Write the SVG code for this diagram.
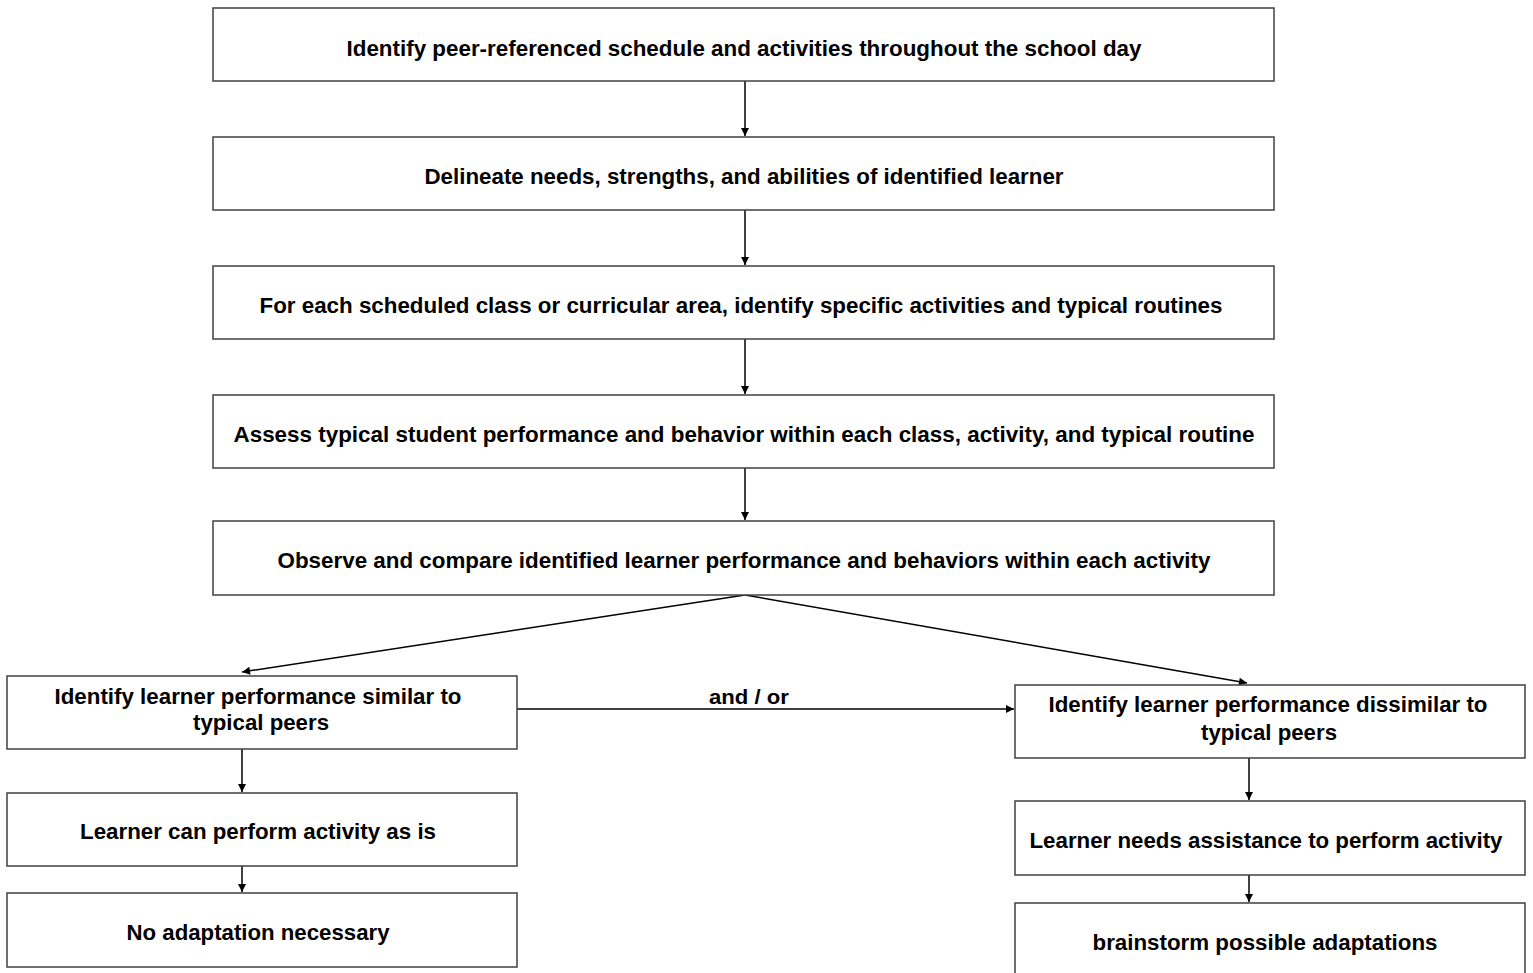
<svg xmlns="http://www.w3.org/2000/svg" width="1533" height="973" viewBox="0 0 1533 973">
<style>
.box{fill:#fff;stroke:#404040;stroke-width:1.5}
.t{font-family:"Liberation Sans",Arial,sans-serif;font-weight:bold;font-size:22px;fill:#000;text-anchor:middle}
.lbl{font-family:"Liberation Sans",Arial,sans-serif;font-weight:bold;font-size:21px;fill:#000;text-anchor:middle}
.c{stroke:#000;stroke-width:1.5;fill:none;marker-end:url(#ah)}
</style>
<defs>
<marker id="ah" viewBox="0 0 10 10" refX="10" refY="5" markerWidth="9" markerHeight="8" markerUnits="userSpaceOnUse" orient="auto">
<path d="M0,0 L10,5 L0,10 z" fill="#000"/>
</marker>
</defs>
<rect width="1533" height="973" fill="#fff"/>
<g id="connectors">
<line class="c" x1="745" y1="81" x2="745" y2="136"/>
<line class="c" x1="745" y1="210" x2="745" y2="265"/>
<line class="c" x1="745" y1="339" x2="745" y2="394"/>
<line class="c" x1="745" y1="468" x2="745" y2="520"/>
<line class="c" x1="745" y1="595" x2="242" y2="672"/>
<line class="c" x1="745" y1="595" x2="1247" y2="683"/>
<line class="c" x1="517" y1="709" x2="1014" y2="709"/>
<text class="lbl" x="749" y="704" textLength="80" lengthAdjust="spacingAndGlyphs">and / or</text>
<line class="c" x1="242" y1="749" x2="242" y2="792"/>
<line class="c" x1="242" y1="866" x2="242" y2="892"/>
<line class="c" x1="1249" y1="758" x2="1249" y2="800"/>
<line class="c" x1="1249" y1="875" x2="1249" y2="902"/>
</g>
<g id="n1"><rect class="box" x="213" y="8" width="1061" height="73"/><text class="t" x="744" y="55.5" textLength="795" lengthAdjust="spacingAndGlyphs">Identify peer-referenced schedule and activities throughout the school day</text></g>
<g id="n2"><rect class="box" x="213" y="137" width="1061" height="73"/><text class="t" x="744" y="183.5" textLength="639" lengthAdjust="spacingAndGlyphs">Delineate needs, strengths, and abilities of identified learner</text></g>
<g id="n3"><rect class="box" x="213" y="266" width="1061" height="73"/><text class="t" x="741" y="312.5" textLength="963" lengthAdjust="spacingAndGlyphs">For each scheduled class or curricular area, identify specific activities and typical routines</text></g>
<g id="n4"><rect class="box" x="213" y="395" width="1061" height="73"/><text class="t" x="744" y="442" textLength="1021" lengthAdjust="spacingAndGlyphs">Assess typical student performance and behavior within each class, activity, and typical routine</text></g>
<g id="n5"><rect class="box" x="213" y="521" width="1061" height="74"/><text class="t" x="744" y="568" textLength="933" lengthAdjust="spacingAndGlyphs">Observe and compare identified learner performance and behaviors within each activity</text></g>
<g id="n6"><rect class="box" x="7" y="676" width="510" height="73"/><text class="t" x="258" y="704" textLength="407" lengthAdjust="spacingAndGlyphs">Identify learner performance similar to</text><text class="t" x="261" y="730" textLength="136" lengthAdjust="spacingAndGlyphs">typical peers</text></g>
<g id="n7"><rect class="box" x="7" y="793" width="510" height="73"/><text class="t" x="258" y="839" textLength="356" lengthAdjust="spacingAndGlyphs">Learner can perform activity as is</text></g>
<g id="n8"><rect class="box" x="7" y="893" width="510" height="74"/><text class="t" x="258" y="940" textLength="263" lengthAdjust="spacingAndGlyphs">No adaptation necessary</text></g>
<g id="n9"><rect class="box" x="1015" y="685" width="510" height="73"/><text class="t" x="1268" y="712" textLength="439" lengthAdjust="spacingAndGlyphs">Identify learner performance dissimilar to</text><text class="t" x="1269" y="740" textLength="136" lengthAdjust="spacingAndGlyphs">typical peers</text></g>
<g id="n10"><rect class="box" x="1015" y="801" width="510" height="74"/><text class="t" x="1266" y="848" textLength="473" lengthAdjust="spacingAndGlyphs">Learner needs assistance to perform activity</text></g>
<g id="n11"><rect class="box" x="1015" y="903" width="510" height="80"/><text class="t" x="1265" y="950" textLength="345" lengthAdjust="spacingAndGlyphs">brainstorm possible adaptations</text></g>
</svg>
